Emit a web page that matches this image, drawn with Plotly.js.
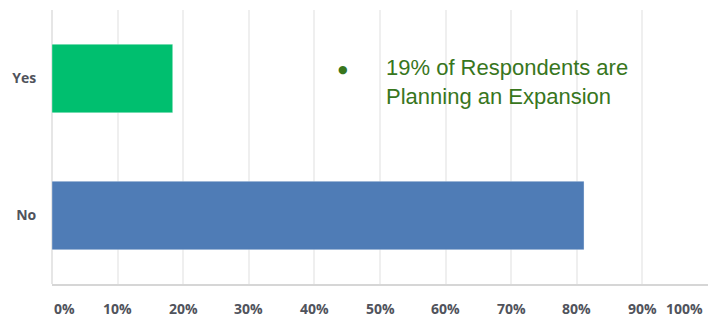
<!DOCTYPE html>
<html>
<head>
<meta charset="utf-8">
<script src="https://cdn.plot.ly/plotly-3.0.1.min.js"></script>
<style>html,body{margin:0;padding:0;background:#fff;}#chart{width:718px;height:318px;}</style>
</head>
<body>
<div id="chart"></div>
<script>
const categories = ['Yes', 'No'];
const values = [18.4, 81.1];
const barColors = ['#00bf6f', '#4f7cb6'];
const tickVals = [0, 10, 20, 30, 40, 50, 60, 70, 80, 90, 100];
const tickText = ['0%', '10%', '20%', '30%', '40%', '50%', '60%', '70%', '80%', '90%', '100%'];
const noteText = '19% of Respondents are<br>Planning an Expansion';

const labelFont = {family: 'Open Sans', size: 14, color: '#50535c', weight: 'bold'};

const tickAnnotations = tickVals.map((v, i) => ({
  x: v, xref: 'x', y: -0.091, yref: 'paper',
  text: '<b>' + tickText[i] + '</b>', showarrow: false,
  xanchor: i === 0 ? 'left' : (i === tickVals.length - 1 ? 'right' : 'center'),
  yanchor: 'middle',
  xshift: i === 0 ? 0 : (i === tickVals.length - 1 ? -3 : 0),
  font: labelFont
}));

const data = [{
  type: 'bar', orientation: 'h',
  x: values, y: categories,
  marker: {color: barColors, line: {color: 'rgba(255,255,255,0.35)', width: 1}},
  hoverinfo: 'none'
}];

const layout = {
  width: 718, height: 318,
  margin: {l: 52, r: 10, t: 10, b: 34},
  paper_bgcolor: '#fff', plot_bgcolor: '#fff',
  showlegend: false,
  bargap: 0.5,
  xaxis: {
    range: [0, 100], tickvals: tickVals, showticklabels: false,
    showgrid: true, gridcolor: '#efefef', gridwidth: 2,
    zeroline: true, zerolinecolor: '#e6e6e6', zerolinewidth: 2,
    showline: true, linecolor: '#d6d6d6', linewidth: 2,
    fixedrange: true
  },
  yaxis: {
    type: 'category', categoryorder: 'array', categoryarray: ['No', 'Yes'],
    range: [-0.5, 1.5], showgrid: false, zeroline: false, showline: false,
    ticks: 'outside', ticklen: 12, tickcolor: 'rgba(0,0,0,0)',
    tickfont: labelFont,
    fixedrange: true
  },
  annotations: tickAnnotations.concat([
    {x: 0.4436, y: 0.783, xref: 'paper', yref: 'paper', text: '●', showarrow: false,
     xanchor: 'center', yanchor: 'middle', font: {family: 'DejaVu Sans', size: 11, color: '#38761d'}},
    {x: 0.506, y: 0.738, xref: 'paper', yref: 'paper', text: noteText, showarrow: false,
     xanchor: 'left', yanchor: 'middle', align: 'left',
     font: {family: 'Liberation Sans', size: 22, color: '#38761d'}}
  ])
};

Plotly.newPlot('chart', data, layout, {displayModeBar: false, staticPlot: true});
</script>
</body>
</html>
